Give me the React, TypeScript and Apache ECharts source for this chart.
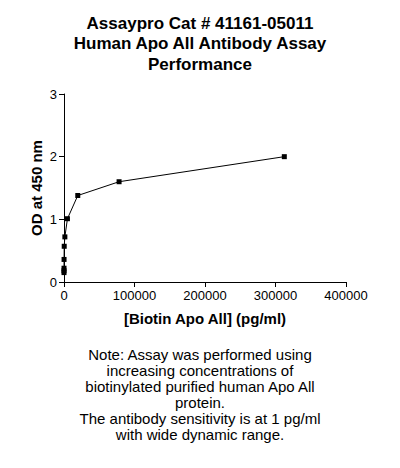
import * as echarts from 'echarts';
import { useEffect, useRef } from 'react';

// serial dilutions (pg/ml) and measured OD at 450 nm
const concentrations = [312500, 78125, 19531, 4883, 1221, 305, 76, 19, 5, 1.2];
const odValues = [2.0, 1.6, 1.38, 1.01, 0.72, 0.57, 0.36, 0.22, 0.18, 0.15];

const titleLines = ['Assaypro Cat # 41161-05011', 'Human Apo All Antibody Assay', 'Performance'];
const noteLines = [
    'Note: Assay was performed using',
    'increasing concentrations of',
    'biotinylated purified human Apo All',
    'protein.',
    'The antibody sensitivity is at 1 pg/ml',
    'with wide dynamic range.',
];

const FONT = '"Liberation Sans", Arial, sans-serif';

const App = () => {
    const chartRef = useRef(null);

    useEffect(() => {
        const chart = echarts.init(chartRef.current, null, { renderer: 'svg' });

        const option = {
            animation: false,
            backgroundColor: '#fff',
            title: {
                text: titleLines.join('\n'),
                left: 'center',
                top: 8,
                textStyle: { fontSize: 17, fontWeight: 'bold', lineHeight: 20.5, color: '#000', fontFamily: FONT },
            },
            grid: { left: 64, right: 54, top: 94, bottom: 186 },
            xAxis: {
                type: 'value',
                min: 0,
                max: 400000,
                interval: 100000,
                name: '[Biotin Apo All] (pg/ml)',
                nameLocation: 'middle',
                nameGap: 29,
                nameTextStyle: { fontSize: 15, fontWeight: 'bold', color: '#000', fontFamily: FONT },
                axisLine: { lineStyle: { color: '#000', width: 1 } },
                axisTick: { show: true, length: 5, lineStyle: { color: '#000' } },
                axisLabel: { color: '#000', fontSize: 13, fontFamily: FONT, margin: 7, formatter: (v: number) => String(v) },
                splitLine: { show: false },
            },
            yAxis: {
                type: 'value',
                min: 0,
                max: 3,
                interval: 1,
                name: 'OD at 450 nm',
                nameLocation: 'middle',
                nameGap: 20,
                nameMoveOverlap: false,
                nameTextStyle: { fontSize: 15, fontWeight: 'bold', color: '#000', fontFamily: FONT },
                axisLine: { show: true, lineStyle: { color: '#000', width: 1 } },
                axisTick: { show: true, length: 5, lineStyle: { color: '#000' } },
                axisLabel: { color: '#000', fontSize: 13, fontFamily: FONT, margin: 7 },
                splitLine: { show: false },
            },
            series: [
                {
                    type: 'line',
                    data: concentrations.map((c, i) => [c, odValues[i]]),
                    symbol: 'rect',
                    symbolSize: 5,
                    itemStyle: { color: '#000' },
                    lineStyle: { color: '#000', width: 1 },
                },
            ],
            graphic: [
                {
                    type: 'text',
                    x: 200,
                    y: 346,
                    style: {
                        text: noteLines.join('\n'),
                        textAlign: 'center',
                        fontSize: 15,
                        lineHeight: 16,
                        fill: '#000',
                        fontFamily: FONT,
                    },
                },
            ],
        };

        chart.setOption(option);

        return () => {
            chart.dispose();
        };
    }, []);

    return <div ref={chartRef} style={{ position: 'absolute', left: 0, top: 0, width: '400px', height: '468px' }} />;
};

export default App;
